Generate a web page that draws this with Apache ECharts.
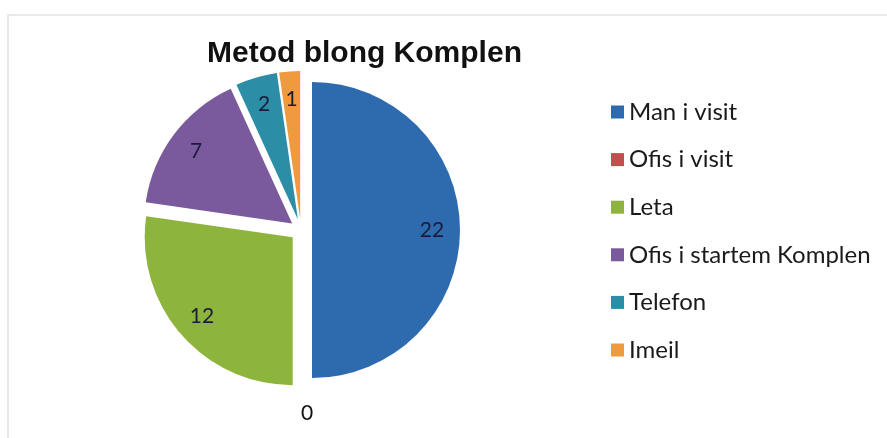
<!DOCTYPE html>
<html>
<head>
<meta charset="utf-8">
<script src="https://cdn.jsdelivr.net/npm/echarts@6/dist/echarts.min.js"></script>
<style>
html,body{margin:0;padding:0;background:#fff;}
#chart{width:887px;height:438px;}
</style>
</head>
<body>
<div id="chart"></div>
<script>
const titleText = 'Metod blong Komplen';
const categories = ['Man i visit', 'Ofis i visit', 'Leta', 'Ofis i startem Komplen', 'Telefon', 'Imeil'];
const values = [22, 0, 12, 7, 2, 1];
const colors = ['#2E6AAE', '#C0504D', '#8DB43C', '#7A5A9C', '#2B8DA6', '#EE9A3E'];

const CENTER = [301, 230];
const R = 148;
const OFFSET = 11;
const labelFont = 'Lato, "Open Sans", sans-serif';

const mainData = categories.map((name, i) => ({
  name: name,
  value: values[i],
  selected: true,
  itemStyle: { color: colors[i] },
  select: { itemStyle: { color: colors[i] } },
  label: values[i] === 0 ? {
    show: true, position: 'outside', fontSize: 21, color: '#111',
    fontFamily: labelFont, distanceToLabelLine: 0, formatter: '{c}'
  } : { show: false },
  labelLine: { show: false, length: 24, length2: 0 }
}));

const labelData = categories.map((name, i) => ({
  name: name,
  value: values[i],
  selected: true,
  itemStyle: { color: 'rgba(0,0,0,0)' },
  select: { itemStyle: { color: 'rgba(0,0,0,0)' } },
  label: { show: values[i] !== 0 }
}));

const chart = echarts.init(document.getElementById('chart'), null, { renderer: 'canvas' });
chart.setOption({
  backgroundColor: '#fff',
  animation: false,
  color: colors,
  title: {
    text: titleText,
    left: 202, top: 34,
    textStyle: { fontFamily: '"Liberation Sans", Arial, sans-serif', fontWeight: 'bold', fontSize: 30, color: '#111' }
  },
  legend: {
    orient: 'vertical',
    left: 606, top: 95,
    icon: 'rect',
    itemWidth: 13, itemHeight: 13,
    itemGap: 23.6,
    data: categories,
    selectedMode: false,
    textStyle: { fontFamily: labelFont, fontSize: 24, color: '#1a1a1a' }
  },
  graphic: [{
    type: 'rect', silent: true, z: -1,
    shape: { x: 8, y: 15, width: 900, height: 460 },
    style: { fill: 'none', stroke: '#e2e2e2', lineWidth: 1.5 }
  }],
  series: [{
    type: 'pie',
    center: CENTER,
    radius: [0, R],
    startAngle: 90,
    clockwise: true,
    selectedMode: 'multiple',
    selectedOffset: OFFSET,
    avoidLabelOverlap: false,
    emphasis: { disabled: true },
    itemStyle: { borderWidth: 0 },
    data: mainData
  }, {
    type: 'pie',
    silent: true,
    center: CENTER,
    radius: [0, 234],
    startAngle: 90,
    clockwise: true,
    selectedMode: 'multiple',
    selectedOffset: OFFSET,
    avoidLabelOverlap: false,
    emphasis: { disabled: true },
    label: { position: 'inside', fontSize: 21, color: '#1b1b3a', fontFamily: labelFont, formatter: '{c}' },
    labelLine: { show: false },
    data: labelData
  }]
});
</script>
</body>
</html>
